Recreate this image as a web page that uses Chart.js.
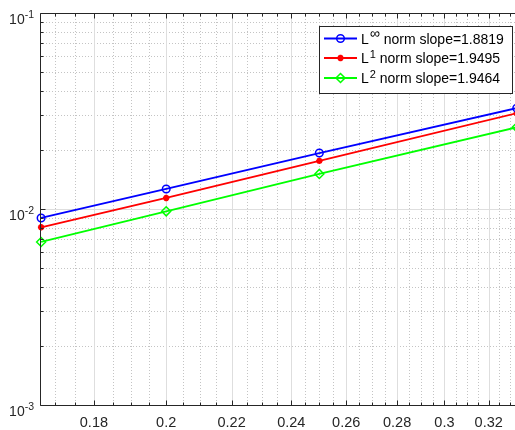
<!DOCTYPE html>
<html>
<head>
<meta charset="utf-8">
<script src="https://cdn.jsdelivr.net/npm/chart.js@4/dist/chart.umd.min.js"></script>
<style>
html,body{margin:0;padding:0;background:#fff;}
#wrap{width:515px;height:430px;position:relative;}
</style>
</head>
<body>
<div id="wrap"><canvas id="c" width="515" height="430"></canvas></div>
<script>
// ---- data ----
const meshSizes = [0.16667, 0.2, 0.25, 0.33333];
const errLinf = [0.0090, 0.01265, 0.0193, 0.0327];
const errL1   = [0.00807, 0.01138, 0.0176, 0.0308];
const errL2   = [0.00679, 0.00973, 0.0151, 0.0261];
const legendBase = ['L', 'L', 'L'];
const legendSup  = ['\u221E', '1', '2'];
const legendRest = [' norm slope=1.8819', ' norm slope=1.9495', ' norm slope=1.9464'];
const xTickVals = [0.18, 0.2, 0.22, 0.24, 0.26, 0.28, 0.3, 0.32];
const xTickLabels = ['0.18', '0.2', '0.22', '0.24', '0.26', '0.28', '0.3', '0.32'];
const xMinorVals = [0.17, 0.175, 0.185, 0.19, 0.195, 0.205, 0.21, 0.215, 0.225, 0.23, 0.235, 0.245, 0.25, 0.255, 0.265, 0.27, 0.275, 0.285, 0.29, 0.295, 0.305, 0.31, 0.315, 0.325, 0.33];
const yTickVals = [0.001, 0.01, 0.1];
const yTickExps = ['-3', '-2', '-1'];
const yMinorVals = [0.002, 0.003, 0.004, 0.005, 0.006, 0.007, 0.008, 0.009, 0.02, 0.03, 0.04, 0.05, 0.06, 0.07, 0.08, 0.09];
const X_MIN = 0.1664, X_MAX = 0.3325, Y_MIN = 0.001, Y_MAX = 0.1;

const FONT = '"Liberation Sans", Arial, Helvetica, sans-serif';
const AXIS_COLOR = '#262626';

function mk(vals){ return meshSizes.map((x,i)=>({x:x, y:vals[i]})); }

const datasets = [
  {label:'Linf', data:mk(errLinf), borderColor:'#0000ff', backgroundColor:'#0000ff',
   pointStyle:'circle', pointRadius:3.8, pointBorderWidth:1.5, pointBackgroundColor:'rgba(0,0,0,0)', pointBorderColor:'#0000ff'},
  {label:'L1', data:mk(errL1), borderColor:'#ff0000', backgroundColor:'#ff0000',
   pointStyle:'star', pointRadius:3.2, pointBorderWidth:2, pointBackgroundColor:'#ff0000', pointBorderColor:'#ff0000'},
  {label:'L2', data:mk(errL2), borderColor:'#00ff00', backgroundColor:'#00ff00',
   pointStyle:'rectRot', pointRadius:4.5, pointBorderWidth:1.5, pointBackgroundColor:'rgba(0,0,0,0)', pointBorderColor:'#00ff00'}
];
datasets.forEach(d=>{ d.borderWidth=1.8; d.tension=0; d.fill=false; d.clip=false; d.pointHoverRadius=d.pointRadius; });

function drawMarker(ctx, style, x, y, r, color, bw){
  ctx.save();
  ctx.strokeStyle=color; ctx.fillStyle=color; ctx.lineWidth=bw;
  ctx.beginPath();
  if(style==='circle'){ ctx.arc(x,y,r,0,Math.PI*2); ctx.stroke(); }
  else if(style==='rectRot'){ ctx.moveTo(x,y-r); ctx.lineTo(x+r,y); ctx.lineTo(x,y+r); ctx.lineTo(x-r,y); ctx.closePath(); ctx.stroke(); }
  else if(style==='star'){
    for(let k=0;k<4;k++){ const a=k*Math.PI/4; ctx.moveTo(x+Math.cos(a)*r,y+Math.sin(a)*r); ctx.lineTo(x-Math.cos(a)*r,y-Math.sin(a)*r); }
    ctx.stroke();
  }
  ctx.restore();
}

const matlabAxes = {
  id:'matlabAxes',
  beforeDatasetsDraw(chart){
    const ctx=chart.ctx, a=chart.chartArea, xs=chart.scales.x, ys=chart.scales.y;
    ctx.save();
    ctx.strokeStyle='#c4c4c4'; ctx.lineWidth=1; ctx.setLineDash([1,2]);
    xMinorVals.forEach(v=>{ const px=Math.round(xs.getPixelForValue(v))+0.5; ctx.beginPath(); ctx.moveTo(px,a.top); ctx.lineTo(px,a.bottom); ctx.stroke(); });
    yMinorVals.forEach(v=>{ const py=Math.round(ys.getPixelForValue(v))+0.5; ctx.beginPath(); ctx.moveTo(a.left,py); ctx.lineTo(a.right,py); ctx.stroke(); });
    ctx.setLineDash([]); ctx.strokeStyle='#dedede';
    xTickVals.forEach(v=>{ const px=Math.round(xs.getPixelForValue(v))+0.5; ctx.beginPath(); ctx.moveTo(px,a.top); ctx.lineTo(px,a.bottom); ctx.stroke(); });
    yTickVals.forEach(v=>{ const py=Math.round(ys.getPixelForValue(v))+0.5; ctx.beginPath(); ctx.moveTo(a.left,py); ctx.lineTo(a.right,py); ctx.stroke(); });
    ctx.restore();
  },
  afterDatasetsDraw(chart){
    const ctx=chart.ctx, a=chart.chartArea, xs=chart.scales.x, ys=chart.scales.y;
    ctx.save();
    ctx.strokeStyle=AXIS_COLOR; ctx.lineWidth=1; ctx.setLineDash([]);
    const L=Math.round(a.left)+0.5, T=Math.round(a.top)+0.5, B=Math.round(a.bottom)+0.5;
    ctx.beginPath();
    ctx.moveTo(L,T); ctx.lineTo(a.right+2,T);
    ctx.moveTo(L,T); ctx.lineTo(L,B);
    ctx.moveTo(L,B); ctx.lineTo(a.right+2,B);
    ctx.stroke();
    ctx.beginPath();
    const xt=(v,len)=>{ const px=Math.round(xs.getPixelForValue(v))+0.5; ctx.moveTo(px,B); ctx.lineTo(px,B-len); ctx.moveTo(px,T); ctx.lineTo(px,T+len); };
    const yt=(v,len)=>{ const py=Math.round(ys.getPixelForValue(v))+0.5; ctx.moveTo(L,py); ctx.lineTo(L+len,py); };
    xTickVals.forEach(v=>xt(v,5)); xMinorVals.forEach(v=>xt(v,3));
    yTickVals.forEach(v=>yt(v,5)); yMinorVals.forEach(v=>yt(v,3));
    ctx.stroke();
    ctx.fillStyle=AXIS_COLOR; ctx.font='14.5px '+FONT; ctx.textAlign='center'; ctx.textBaseline='alphabetic';
    xTickVals.forEach((v,i)=>{ ctx.fillText(xTickLabels[i], xs.getPixelForValue(v), 427); });
    yTickVals.forEach((v,i)=>{
      const py=ys.getPixelForValue(v);
      ctx.font='10.5px '+FONT; const ew=ctx.measureText(yTickExps[i]).width;
      const right=34;
      ctx.textAlign='left'; ctx.fillText(yTickExps[i], right-ew, py+5);
      ctx.font='14px '+FONT; ctx.textAlign='right'; ctx.fillText('10', right-ew, py+10.5);
    });
    // legend
    const bx=319.5, by=26.5, bw=193, bh=67;
    ctx.fillStyle='#ffffff'; ctx.fillRect(bx,by,bw,bh);
    ctx.strokeStyle=AXIS_COLOR; ctx.lineWidth=1; ctx.strokeRect(bx,by,bw,bh);
    const rows=[38.5,58,78];
    chart.data.datasets.forEach((d,i)=>{
      const ry=rows[i];
      ctx.strokeStyle=d.borderColor; ctx.lineWidth=d.borderWidth;
      ctx.beginPath(); ctx.moveTo(324,ry); ctx.lineTo(357,ry); ctx.stroke();
      drawMarker(ctx, d.pointStyle, 340.5, ry, d.pointRadius, d.borderColor, d.pointBorderWidth);
      ctx.fillStyle='#000000'; ctx.textAlign='left'; ctx.textBaseline='alphabetic';
      ctx.font='14px '+FONT;
      let x=361; ctx.fillText(legendBase[i], x, ry+5); x+=ctx.measureText(legendBase[i]).width+1;
      ctx.font=(legendSup[i]==='\u221E'?'14px ':'11px ')+FONT;
      ctx.fillText(legendSup[i], x, ry-0.5); x+=ctx.measureText(legendSup[i]).width;
      ctx.font='14px '+FONT; ctx.fillText(legendRest[i], x, ry+5);
    });
    ctx.restore();
  }
};

new Chart(document.getElementById('c'), {
  type:'line',
  data:{datasets:datasets},
  options:{
    responsive:false, animation:false, devicePixelRatio:1,
    layout:{autoPadding:false, padding:{left:40,right:0,top:13,bottom:25}},
    plugins:{legend:{display:false}, tooltip:{enabled:false}},
    events:[],
    scales:{
      x:{type:'logarithmic', display:false, min:X_MIN, max:X_MAX},
      y:{type:'logarithmic', display:false, min:Y_MIN, max:Y_MAX}
    }
  },
  plugins:[matlabAxes]
});
</script>
</body>
</html>
